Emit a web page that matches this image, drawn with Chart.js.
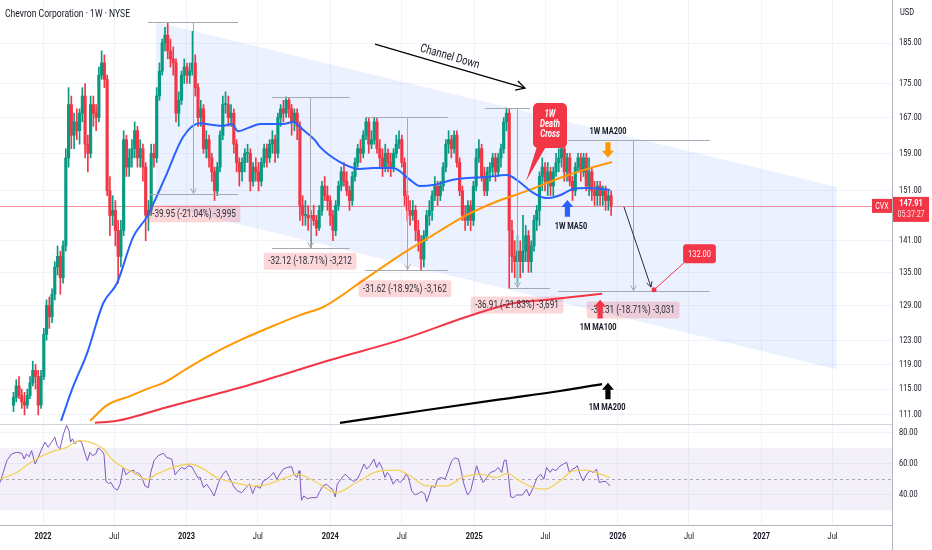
<!DOCTYPE html>
<html>
<head>
<meta charset="utf-8">
<title>Chevron Corporation 1W</title>
<script src="https://cdn.jsdelivr.net/npm/chart.js@4.4.1/dist/chart.umd.min.js"></script>
<style>
  html, body { margin: 0; padding: 0; background: #ffffff; }
  #wrap { width: 932px; height: 550px; }
</style>
</head>
<body>
<div id="wrap"><canvas id="chart" width="932" height="550"></canvas></div>
<script>
// x values are days counted from 2022-01-01, first weekly candle is 2021-10-18
const firstWeekDay = -75;

// weekly candles
const opens = [
  112.5,113.7,115.5,114,113,112.5,114,116,118,117,
  112.5,117,124,129,127,131,136,138,134,140,
  158,170,163,166,164,168,172,161,159,170,
  168,167,177,180,176,151,146,147,143,138,
  143,162,156,158,160,164,158,160,156,146,
  147,159,158,172,178,185,187,183,181,180,
  168,171,177,179,177,178,180,174,167,169,
  160,162,158,155,151,156,163,170,170,167,
  168,161,157,155,157,159,159,153,156,155,
  153,157,160,158,161,162,159,167,169,168,
  171,169,166,168,165,148,146,146,145.5,146,
  145,143.5,147,152,150,149,146,143,148,152,
  155,153,151,149,154,157,160,159,163,166,
  161,162,166,160,158,156,159,157,156,159,
  161,162,157,150,147,146,147,143,141,137.5,
  142,146,147,150,152,150,152,156,161,162,
  160,163,157,151,146,145,148,145,152,158,
  160,154,151,155,156,158,155,158,160,166,
  168,143,138,137,139,137,139,142,137,140,
  145,147,154,156,153,155,152,155,157,158,
  160,155,158,153,151,156,158,155,158,152,
  155,151,150,152,150,151,149,150
];
const highs = [
  114.5,116.5,117,115,114.5,115,117,119.5,119,118,
  118,125,130,130.5,132,137,140,139,141,160,
  174,172,168,169,169,174,175,163,172,172,
  170,179,183,182,177,154,150,149,145,145,
  164,163,160,162,166,165,162,161,157,149,
  161,161,174,180,186,189,190.3,186,184,181,
  173,178,181,180,180,188,182,175,171,170,
  164,163,159,156,157,164,172,173,172,170,
  169,162,158,158,160,161,160,157,158,157,
  158,161,161,162,164,163,168,170,171,171.8,
  171.5,170,169,169,166,150,149,148,147,148,
  146,148,153,154,152,150,147,149,153,156,
  157,155,152,155,158,161,162,164,167,167,
  164,167.1,167,162,160,161,160,159,160,163,
  164,163,158,151,149,149,148,145,142,143,
  147,149,151,154,153,153,157,162,164,163,
  164,164,158,152,148,149,149,153,160,162,
  161,156,156,157,159,159,159,161,167,169.2,
  169,145,141,142,141,146,144,143,141,146,
  148,155,158,157,157,156,156,159,160,163,
  161,159,159,154,157,159,159,159,159,158,
  156,153,153,153,152,152,151,151
];
const lows = [
  111.5,113,113.5,112,111,112,113.5,115.5,115,111,
  112,116.5,123,125,126,130,134.5,131,133,139,
  156,160,160,162,161,166,158,155,158,165,
  164,166,176,174,150,142,144,140,133,136,
  142,154,154,156,158,156,156,153,141,143,
  146,156,157,171,177,183,181,179,177,166,
  165,170,175,175,175,177,172,165,165,159,
  158,156,153,149,150,155,162,168,165,165,
  159,155,152,153,155,157,151,152,153,151,
  152,156,156,157,159,157,158,165,166,167,
  167,163,164,162,145,144,144,143,139.7,144,
  142,143,146,149,147,144,141,142,147,151,
  152,150,147,148,153,156,157,158,162,159,
  160,161,159,156,154,155,155,154,155,158,
  160,156,148,145,144,145,141,139,135.4,136,
  141,144,145,149,148,149,151,155,159,158,
  159,156,150,145,143,144,143,144,151,157,
  153,150,150,153,154,153,154,156,159,164,
  132.1,135,134,133,134,135,137,135,135,139,
  143,144,151,151,150,150,150,154,155,156,
  153,153,152,149,150,155,153,154,151,150,
  149,148,148,148,148,147,147,146
];
const closes = [
  113.7,115.5,114,113,112.5,114,116,118,117,112.5,
  117,124,129,127,131,136,138,134,140,158,
  170,163,166,164,168,172,161,159,170,168,
  167,177,180,176,151,146,147,143,138,143,
  162,156,158,160,164,158,160,156,146,147,
  159,158,172,178,185,187,183,181,180,168,
  171,177,179,177,178,180,174,167,169,160,
  162,158,155,151,156,163,170,170,167,168,
  161,157,155,157,159,159,153,156,155,153,
  157,160,158,161,162,159,167,169,168,171,
  169,166,168,165,148,146,146,145.5,146,145,
  143.5,147,152,150,149,146,143,148,152,155,
  153,151,149,154,157,160,159,163,166,161,
  162,166,160,158,156,159,157,156,159,161,
  162,157,150,147,146,147,143,141,137.5,142,
  146,147,150,152,150,152,156,161,162,160,
  163,157,151,146,145,148,145,152,158,160,
  154,151,155,156,158,155,158,160,166,168,
  143,138,137,139,137,139,142,137,140,145,
  147,154,156,153,155,152,155,157,158,160,
  155,158,153,151,156,158,155,158,152,155,
  151,150,152,150,151,149,150,147.91
];
const lastPrice = 147.91;

// moving averages (days / values read at points along each line)
const ma50Days = [46,76,112,153,188,229,264,310,356,399,432,455,480,496,526,552,610,636,661,691,
  704,755,806,839,890,933,958,991,1042,1078,1129,1179,1212,1246,1281,1314,1347,1383,1441];
const ma50Vals = [110.1,115.3,120.8,129.4,133.0,141.7,145.7,153.7,162.6,165.7,165.3,165.1,165.5,163.9,164.8,165.5,165.5,166.0,164.2,161.9,
  160.4,157.1,155.6,155.8,155.8,153.3,152.0,152.2,153.3,153.7,153.9,154.3,152.8,150.6,149.5,150.1,151.4,151.6,151.2];
const ma200Days = [120,163,221,272,310,361,425,501,577,653,717,819,920,1004,1073,1144,1230,1314,1398,1446];
const ma200Vals = [110.1,112.5,113.9,115.2,116.1,118.1,120.5,123.0,125.2,127.3,128.9,133.8,138.8,142.7,145.9,148.5,151.0,153.7,156.0,157.1];
const monthMa100Days = [132,188,310,526,730,907,1085,1195,1281,1421];
const monthMa100Vals = [109.8,110.1,112.1,115.7,119.7,123.0,127.2,129.4,130.0,131.1];
const monthMa200Days = [755,958,1162,1314,1421];
const monthMa200Vals = [109.8,111.6,113.4,114.7,115.8];

// RSI panel
const rsiDays = [-109,-101,-92,-80,-67,-54,-48,-42,-35,-29,-20,-12,-3,5,13,22,30,36,43,52,
  60,66,70,75,81,90,98,107,113,119,126,134,140,149,155,160,166,173,180,189,
  196,204,211,217,223,230,234,240,247,253,259,268,274,282,293,306,314,327,336,344,
  352,361,369,378,386,395,399,408,416,425,435,446,457,465,474,484,494,505,516,525,
  533,541,552,560,569,579,586,594,602,611,621,632,638,645,651,
  653,657,663,672,683,696,702,711,721,729,736,743,748,757,768,779,789,799,807,816,
  823,831,841,848,855,863,869,875,882,890,899,907,916,923,929,937,946,954,962,971,
  975,982,988,996,1003,1012,1022,1030,1039,1047,1056,1062,1070,1079,1087,1096,1102,1111,1119,1128,
  1138,1149,1157,1166,1172,1177,1183,1189,1196,1204,1219,1229,1236,1246,1256,1265,1273,1280,1289,1295,
  1304,1312,1323,1331,1338,1346,1352,1358,1365,1373,1382,1390,1399,1407,1414,1423,1431,1441];
const rsiVals = [47.8,54.2,61.7,66.0,67.1,66.5,62.8,66.0,64.3,68.2,59.6,63.9,69.3,73.6,70.3,73.6,76.8,71.4,69.3,78.9,
  84.3,81.1,73.6,75.7,72.5,74.6,73.6,66.0,61.7,67.1,65.0,66.0,69.9,68.2,66.0,48.8,47.1,47.8,44.5,42.8,
  46.7,57.4,52.7,54.2,54.9,55.7,53.1,54.2,52.7,49.9,45.6,44.5,54.2,61.7,65.0,66.5,63.9,62.8,52.7,55.3,
  57.4,56.4,58.5,57.9,54.2,50.5,51.4,44.5,46.7,43.5,39.2,47.8,53.1,55.3,51.0,45.6,42.4,41.3,44.5,46.7,
  40.7,45.6,44.1,48.8,49.9,52.1,54.2,49.9,53.1,56.4,57.4,57.9,53.1,51.0,55.3,
  52.1,36.4,39.2,37.4,38.1,38.1,41.3,45.6,46.7,44.5,43.5,38.5,46.7,49.9,53.1,50.5,48.4,49.9,54.2,59.6,
  56.4,58.5,62.8,57.4,60.7,56.4,51.0,54.2,52.1,46.7,49.9,47.8,49.9,53.1,51.0,42.4,39.8,40.7,42.0,40.2,
  35.5,40.2,45.6,44.5,49.9,51.0,49.9,55.3,61.7,63.5,62.8,56.4,46.7,39.8,42.4,52.1,58.5,52.1,47.8,51.0,
  54.2,55.3,57.4,54.2,61.7,62.2,52.1,38.5,38.1,39.8,39.8,43.5,39.2,44.5,51.0,53.1,49.9,57.4,54.2,56.4,
  55.3,57.9,59.6,60.7,54.2,56.4,57.0,58.5,53.1,48.8,53.1,55.3,54.2,56.4,47.8,48.4,48.4,45.6];
const rsiMaDays = [-109,-67,-25,18,60,94,119,153,179,204,230,263,289,331,374,408,441,484,518,551,
  585,619,645,696,746,797,857,899,933,975,1026,1068,1111,1153,1179,1212,1246,1276,1314,1348,1382,1416,1441];
const rsiMaVals = [49.9,54.2,61.7,67.1,70.3,74.6,73.6,69.3,61.7,57.4,54.2,49.9,53.1,57.4,59.6,56.4,51.0,47.8,46.0,45.6,
  47.8,51.0,53.1,47.8,41.3,47.8,55.3,55.7,52.1,45.6,45.6,51.4,53.1,51.0,53.6,48.8,44.5,43.5,48.8,55.3,55.7,53.1,51.0];

// axis ticks
const priceTicks = [111, 115, 119, 123, 129, 135, 141, 151, 159, 167, 175, 185];
const rsiTicks = [40, 60, 80];
const xTickDays = [0, 181, 365, 546, 730, 912, 1096, 1277, 1461, 1642, 1826, 2007];
const xTickLabels = ['2022', 'Jul', '2023', 'Jul', '2024', 'Jul', '2025', 'Jul', '2026', 'Jul', '2027', 'Jul'];

// drawings on the chart
const channelDays = [287.4, 2017.1];
const channelTop = [190.4, 151.8];
const channelBottom = [148.3, 118.2];

const measures = [
  { topFrom: 267, topTo: 496, botFrom: 272, botTo: 496, vx: 381, top: 190.4, bottom: 150.4, text: '-39.95 (-21.04%) -3,995', lx: 384, ly: 146.3 },
  { topFrom: 582, topTo: 780, botFrom: 582, botTo: 780, vx: 679, top: 171.8, bottom: 139.6, text: '-32.12 (-18.71%) -3,212', lx: 679, ly: 137.1 },
  { topFrom: 819, topTo: 1029, botFrom: 819, botTo: 1029, vx: 925, top: 167.1, bottom: 135.4, text: '-31.62 (-18.92%) -3,162', lx: 920, ly: 132.0 },
  { topFrom: 1124, topTo: 1238, botFrom: 1187, botTo: 1289, vx: 1205, top: 169.2, bottom: 132.1, text: '-36.91 (-21.83%) -3,691', lx: 1205, ly: 129.1 },
  { topFrom: 1334, topTo: 1695, botFrom: 1309, botTo: 1695, vx: 1500, top: 161.9, bottom: 131.6, text: '-30.31 (-18.71%) -3,031', lx: 1500, ly: 128.2 }
];

const GREEN = '#089981';
const RED = '#f23645';
const FONT = 'Roboto, "Liberation Sans", sans-serif';
const SX = 0.78; // the reference text is narrow

const weekDays = closes.map((c, i) => firstWeekDay + 7 * i);
const candleColors = closes.map((c, i) => c >= opens[i] ? GREEN : RED);

function pts(days, vals) {
  return days.map((d, i) => ({ x: d, y: vals[i] }));
}

function txt(ctx, s, x, y, font, color, align, sx, rot) {
  ctx.save();
  ctx.font = font;
  ctx.fillStyle = color || '#131722';
  ctx.textAlign = align || 'left';
  ctx.textBaseline = 'middle';
  ctx.translate(x, y);
  if (rot) ctx.rotate(rot);
  ctx.scale(sx || SX, 1);
  ctx.fillText(s, 0, 0);
  ctx.restore();
}

function txtWidth(ctx, s, font, sx) {
  ctx.save();
  ctx.font = font;
  const w = ctx.measureText(s).width * (sx || SX);
  ctx.restore();
  return w;
}

function openHead(ctx, x1, y1, x2, y2, len) {
  const a = Math.atan2(y2 - y1, x2 - x1);
  ctx.beginPath();
  ctx.moveTo(x2 - len * Math.cos(a - 0.5), y2 - len * Math.sin(a - 0.5));
  ctx.lineTo(x2, y2);
  ctx.lineTo(x2 - len * Math.cos(a + 0.5), y2 - len * Math.sin(a + 0.5));
  ctx.stroke();
}

function blockArrow(ctx, x, yTip, yBase, color) {
  const dir = yBase > yTip ? 1 : -1;
  const head = 7 * dir;
  ctx.fillStyle = color;
  ctx.beginPath();
  ctx.moveTo(x, yTip);
  ctx.lineTo(x + 6, yTip + head);
  ctx.lineTo(x + 2.6, yTip + head);
  ctx.lineTo(x + 2.6, yBase);
  ctx.lineTo(x - 2.6, yBase);
  ctx.lineTo(x - 2.6, yTip + head);
  ctx.lineTo(x - 6, yTip + head);
  ctx.closePath();
  ctx.fill();
}

const overlay = {
  id: 'overlay',
  beforeDatasetDraw(chart, args) {
    // keep each series inside its own panel
    const ys = args.meta.yScale;
    const a = chart.chartArea;
    chart.ctx.save();
    chart.ctx.beginPath();
    chart.ctx.rect(a.left, ys.top, a.right - a.left, ys.bottom - ys.top);
    chart.ctx.clip();
  },
  afterDatasetDraw(chart) {
    chart.ctx.restore();
  },
  beforeDatasetsDraw(chart) {
    const ctx = chart.ctx;
    const a = chart.chartArea;
    const rs = chart.scales.rsi;
    const ys = chart.scales.y;
    // RSI band 30-70 and middle line
    ctx.save();
    ctx.fillStyle = 'rgba(126,87,194,0.09)';
    ctx.fillRect(a.left, rs.getPixelForValue(70), a.right - a.left, rs.getPixelForValue(30) - rs.getPixelForValue(70));
    ctx.strokeStyle = 'rgba(120,123,134,0.6)';
    ctx.lineWidth = 1;
    ctx.setLineDash([3, 3]);
    ctx.beginPath();
    const y50 = Math.round(rs.getPixelForValue(50)) + 0.5;
    ctx.moveTo(a.left, y50);
    ctx.lineTo(a.right, y50);
    ctx.stroke();
    ctx.setLineDash([]);
    // last price line
    const yp = Math.round(ys.getPixelForValue(lastPrice)) + 0.5;
    ctx.strokeStyle = 'rgba(242,54,69,0.55)';
    ctx.beginPath();
    ctx.moveTo(a.left, yp);
    ctx.lineTo(a.right, yp);
    ctx.stroke();
    ctx.restore();
  },
  afterDatasetsDraw(chart) {
    const ctx = chart.ctx;
    const xs = chart.scales.x, ys = chart.scales.y;
    const X = d => xs.getPixelForValue(d);
    const Y = p => ys.getPixelForValue(p);
    ctx.save();

    // price range measurements
    const mFont = '10.5px ' + FONT;
    measures.forEach(m => {
      ctx.strokeStyle = '#a6a9b1';
      ctx.lineWidth = 1;
      const yt = Math.round(Y(m.top)) + 0.5, yb = Math.round(Y(m.bottom)) + 0.5;
      const xv = Math.round(X(m.vx)) + 0.5;
      ctx.beginPath();
      ctx.moveTo(X(m.topFrom), yt); ctx.lineTo(X(m.topTo), yt);
      ctx.moveTo(X(m.botFrom), yb); ctx.lineTo(X(m.botTo), yb);
      ctx.moveTo(xv, yt); ctx.lineTo(xv, yb - 1);
      ctx.stroke();
      openHead(ctx, xv, yt, xv, yb - 1, 6);
      const w = txtWidth(ctx, m.text, mFont) + 9;
      const cx = X(m.lx), cy = Y(m.ly);
      ctx.fillStyle = 'rgba(242,54,69,0.2)';
      ctx.beginPath();
      ctx.roundRect(cx - w / 2, cy - 8.5, w, 17, 2);
      ctx.fill();
      txt(ctx, m.text, cx, cy + 0.5, mFont, '#2a2e39', 'center');
    });

    // Channel Down arrow
    const ax1 = X(844), ay1 = Y(184.7), ax2 = X(1225), ay2 = Y(173.9);
    ctx.strokeStyle = '#000000';
    ctx.lineWidth = 1.3;
    ctx.beginPath();
    ctx.moveTo(ax1, ay1); ctx.lineTo(ax2, ay2);
    ctx.stroke();
    openHead(ctx, ax1, ay1, ax2, ay2, 10);
    const ang = Math.atan2(ay2 - ay1, ax2 - ax1);
    txt(ctx, 'Channel Down', X(1034), Y(181.5), '12px ' + FONT, '#131722', 'center', 0.8, ang);

    // 1W Death Cross callout
    const bx = X(1288.7), by = Y(165.2);
    ctx.fillStyle = RED;
    ctx.beginPath();
    ctx.roundRect(bx - 17, by - 22.5, 34, 45, 5);
    ctx.fill();
    ctx.beginPath();
    ctx.moveTo(bx - 13, by + 21);
    ctx.lineTo(bx - 4, by + 21);
    ctx.lineTo(X(1227.7), Y(153.0));
    ctx.closePath();
    ctx.fill();
    const dFont = 'italic bold 10px ' + FONT;
    txt(ctx, '1W', bx, by - 10.5, dFont, '#ffffff', 'center');
    txt(ctx, 'Death', bx, by - 0.5, dFont, '#ffffff', 'center');
    txt(ctx, 'Cross', bx, by + 9.5, dFont, '#ffffff', 'center');

    // moving average labels
    const lFont = 'bold 9.5px ' + FONT;
    txt(ctx, '1W MA200', X(1436), Y(163.9), lFont, '#131722', 'center');
    blockArrow(ctx, X(1436), Y(158.0), Y(161.4), '#ff9800');
    txt(ctx, '1W MA50', X(1342), Y(143.7), lFont, '#131722', 'center');
    blockArrow(ctx, X(1333), Y(149.1), Y(145.7), '#2962ff');
    txt(ctx, '1M MA100', X(1411), Y(125.2), lFont, '#131722', 'center');
    blockArrow(ctx, X(1416), Y(130.0), Y(126.7), RED);
    txt(ctx, '1M MA200', X(1434), Y(112.1), lFont, '#131722', 'center');
    blockArrow(ctx, X(1436), Y(116.0), Y(113.4), '#000000');

    // projection to 132.00
    ctx.strokeStyle = '#2a2e39';
    ctx.lineWidth = 1;
    const px1 = X(1476.8), py1 = Y(147.7), px2 = X(1545.4), py2 = Y(132.3);
    ctx.beginPath();
    ctx.moveTo(px1, py1); ctx.lineTo(px2, py2);
    ctx.stroke();
    openHead(ctx, px1, py1, px2, py2, 6);
    const dotX = X(1553.1), dotY = Y(131.8);
    const tFont = '9.5px ' + FONT;
    const tw = txtWidth(ctx, '132.00', tFont) + 10;
    const tx = X(1668.7), ty = Y(138.5);
    ctx.strokeStyle = RED;
    ctx.beginPath();
    ctx.moveTo(dotX, dotY); ctx.lineTo(tx - tw / 2 + 2, ty + 8);
    ctx.stroke();
    ctx.fillStyle = RED;
    ctx.beginPath();
    ctx.arc(dotX, dotY, 2.5, 0, Math.PI * 2);
    ctx.fill();
    ctx.beginPath();
    ctx.roundRect(tx - tw / 2, ty - 9.5, tw, 19, 3);
    ctx.fill();
    txt(ctx, '132.00', tx, ty + 0.5, tFont, '#ffffff', 'center');

    ctx.restore();
  },
  afterDraw(chart) {
    const ctx = chart.ctx;
    const a = chart.chartArea;
    const xs = chart.scales.x, ys = chart.scales.y, rs = chart.scales.rsi;
    ctx.save();
    // panel separators and borders
    ctx.strokeStyle = '#d1d4dc';
    ctx.lineWidth = 1;
    ctx.beginPath();
    ctx.moveTo(a.left, Math.round(ys.bottom) + 0.5);
    ctx.lineTo(a.right, Math.round(ys.bottom) + 0.5);
    ctx.stroke();
    ctx.strokeStyle = '#b2b5be';
    ctx.beginPath();
    ctx.moveTo(Math.round(a.right) + 0.5, 0);
    ctx.lineTo(Math.round(a.right) + 0.5, chart.height);
    ctx.moveTo(a.left, Math.round(a.bottom) + 0.5);
    ctx.lineTo(a.right, Math.round(a.bottom) + 0.5);
    ctx.stroke();

    // axis labels
    const tickFont = '9.5px ' + FONT;
    priceTicks.forEach(v => txt(ctx, v.toFixed(2), a.right + 7, ys.getPixelForValue(v), tickFont, '#131722', 'left'));
    rsiTicks.forEach(v => txt(ctx, v.toFixed(2), a.right + 7, rs.getPixelForValue(v), tickFont, '#131722', 'left'));
    xTickDays.forEach((d, i) => {
      const isYear = /^\d{4}$/.test(xTickLabels[i]);
      txt(ctx, xTickLabels[i], xs.getPixelForValue(d), a.bottom + 11.5,
        (isYear ? 'bold ' : '') + '9.5px ' + FONT, '#131722', 'center');
    });
    txt(ctx, 'USD', a.right + 8, 13, '9.5px ' + FONT, '#131722', 'left');

    // last price tags
    const yp = ys.getPixelForValue(lastPrice);
    ctx.fillStyle = RED;
    ctx.fillRect(a.right - 20, yp - 7, 20, 14);
    txt(ctx, 'CVX', a.right - 10, yp + 0.5, '9px ' + FONT, '#ffffff', 'center');
    ctx.fillRect(a.right + 1, yp - 9, 36, 25);
    txt(ctx, lastPrice.toFixed(2), a.right + 19, yp - 2.5, 'bold 9.5px ' + FONT, '#ffffff', 'center');
    txt(ctx, '05:37:27', a.right + 19, yp + 9, '9px ' + FONT, 'rgba(255,255,255,0.85)', 'center');

    // title
    txt(ctx, 'Chevron Corporation \u00b7 1W \u00b7 NYSE', 5, 14, '11px ' + FONT, '#131722', 'left');
    ctx.restore();
  }
};

const lineBase = { type: 'line', pointRadius: 0, fill: false, cubicInterpolationMode: 'monotone' };

new Chart(document.getElementById('chart'), {
  type: 'bar',
  data: {
    datasets: [
      {
        type: 'line', data: pts(channelDays, channelTop), fill: '+1',
        backgroundColor: 'rgba(41,98,255,0.09)', borderWidth: 0, pointRadius: 0, order: 20
      },
      {
        type: 'line', data: pts(channelDays, channelBottom), fill: false,
        borderWidth: 0, pointRadius: 0, order: 19
      },
      {
        data: weekDays.map((d, i) => ({ x: d, y: [lows[i], highs[i]] })),
        backgroundColor: candleColors, barThickness: 1, grouped: false, borderWidth: 0, order: 10
      },
      {
        data: weekDays.map((d, i) => ({ x: d, y: [opens[i], closes[i]] })),
        backgroundColor: candleColors, barThickness: 2.5, minBarLength: 1, grouped: false, borderWidth: 0, order: 9
      },
      { ...lineBase, data: pts(monthMa200Days, monthMa200Vals), borderColor: '#000000', borderWidth: 2.2, order: 4 },
      { ...lineBase, data: pts(monthMa100Days, monthMa100Vals), borderColor: RED, borderWidth: 2, order: 3 },
      { ...lineBase, data: pts(ma200Days, ma200Vals), borderColor: '#ff9800', borderWidth: 2, order: 2 },
      { ...lineBase, data: pts(ma50Days, ma50Vals), borderColor: '#2962ff', borderWidth: 2, order: 1 },
      { type: 'line', yAxisID: 'rsi', data: pts(rsiDays, rsiVals), borderColor: '#7e57c2', borderWidth: 1, pointRadius: 0, fill: false, order: 6 },
      { ...lineBase, yAxisID: 'rsi', data: pts(rsiMaDays, rsiMaVals), borderColor: '#f3d35a', borderWidth: 1.3, order: 5 }
    ]
  },
  options: {
    responsive: false,
    animation: false,
    events: [],
    layout: { padding: 0 },
    plugins: { legend: { display: false }, tooltip: { enabled: false } },
    scales: {
      x: {
        type: 'linear',
        min: -109.3,
        max: 2158,
        offset: false,
        grid: { color: '#f0f3fa', drawTicks: false, offset: false },
        border: { display: false },
        ticks: { display: false, autoSkip: false },
        afterBuildTicks: s => { s.ticks = xTickDays.map(v => ({ value: v })); },
        afterFit: s => { s.height = 25; }
      },
      y: {
        type: 'logarithmic',
        position: 'right',
        stack: 'panels',
        stackWeight: 424,
        min: 109.62,
        max: 196.26,
        beginAtZero: false,
        grid: { color: '#f0f3fa', drawTicks: false },
        border: { display: false },
        ticks: { display: false },
        afterBuildTicks: s => { s.ticks = priceTicks.map(v => ({ value: v })); },
        afterFit: s => { s.width = 40; }
      },
      rsi: {
        type: 'linear',
        position: 'right',
        stack: 'panels',
        stackWeight: 101,
        min: 20.6,
        max: 85.2,
        beginAtZero: false,
        grid: { color: '#f0f3fa', drawTicks: false },
        border: { display: false },
        ticks: { display: false },
        afterBuildTicks: s => { s.ticks = rsiTicks.map(v => ({ value: v })); },
        afterFit: s => { s.width = 40; }
      }
    }
  },
  plugins: [overlay]
});
</script>
</body>
</html>
